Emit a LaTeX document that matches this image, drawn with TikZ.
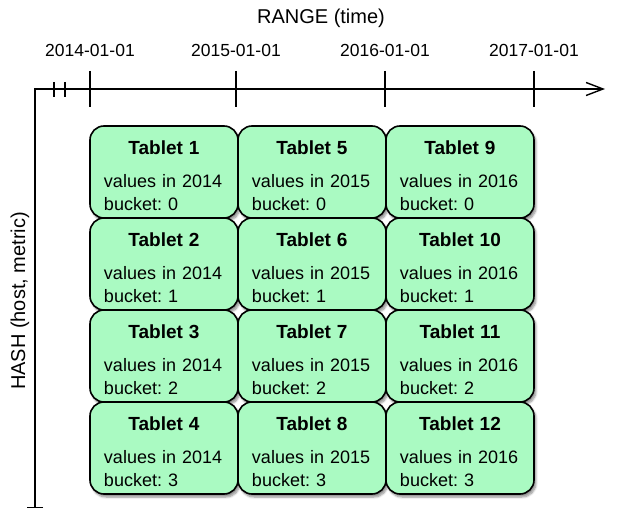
\documentclass[tikz,border=0pt]{standalone}
\usepackage{fontspec}
\setmainfont{Liberation Sans}
\usetikzlibrary{matrix, arrows.meta, shadows.blur}

\definecolor{tabletgreen}{RGB}{170,250,194}

\newcommand{\tablet}[3]{%
  \frenchspacing
  {\centering\fontsize{19}{23}\selectfont\bfseries\rule{0pt}{21pt}Tablet #1\par}\vspace{10pt}%
  values in #2\par
  bucket: #3}

\tikzset{
  tablet/.style={draw, line width=1.6pt, fill=tabletgreen, rounded corners=14pt,
    minimum width=148pt, minimum height=92pt, inner sep=0pt,
    text width=120pt, align=left, font=\fontsize{18}{23}\selectfont,
    blur shadow={shadow xshift=2pt, shadow yshift=-3pt, shadow blur steps=6, shadow opacity=45}},
  axis/.style={line width=1.4pt},
  datelabel/.style={anchor=base, inner sep=0pt, font=\fontsize{17.5}{21}\selectfont},
  axislabel/.style={anchor=base, inner sep=0pt, font=\fontsize{20}{24}\selectfont}
}

\begin{document}
\begin{tikzpicture}[x=1pt, y=-1pt]
    \useasboundingbox (0,0) rectangle (633,532);

    % Axes
    \coordinate (origin) at (35,89);
    \coordinate (xend) at (605,89);
    \coordinate (yend) at (35,508);
    \draw[axis, {Bar[width=16pt]}-{Straight Barb[length=17pt,width=13pt]}] (yend) -- (origin) -- (xend);

    \foreach \x in {54,65}
    \draw[axis] (\x,82) -- (\x,97);

    \foreach \x/\yr in {90/2014, 236/2015, 385/2016, 534/2017} {
        \draw[axis] (\x,71) -- (\x,107);
        \node[datelabel] (d\yr) at (\x,57) {\yr-01-01};
    }

    \node[axislabel] (range) at (321,24) {RANGE (time)};
    \node[axislabel, rotate=90] (hash) at (25,301) {HASH (host, metric)};

    % Create the matrix
    \matrix (m) [matrix of nodes,
        nodes={tablet},
        column sep={148pt,between origins},
        row sep={92pt,between origins},
        matrix anchor=m-1-1.center
        ] at (164,172)
    {
        \tablet{1}{2014}{0} & \tablet{5}{2015}{0} & \tablet{9}{2016}{0} \\
        \tablet{2}{2014}{1} & \tablet{6}{2015}{1} & \tablet{10}{2016}{1} \\
        \tablet{3}{2014}{2} & \tablet{7}{2015}{2} & \tablet{11}{2016}{2} \\
        \tablet{4}{2014}{3} & \tablet{8}{2015}{3} & \tablet{12}{2016}{3} \\
    };

\end{tikzpicture}
\end{document}
